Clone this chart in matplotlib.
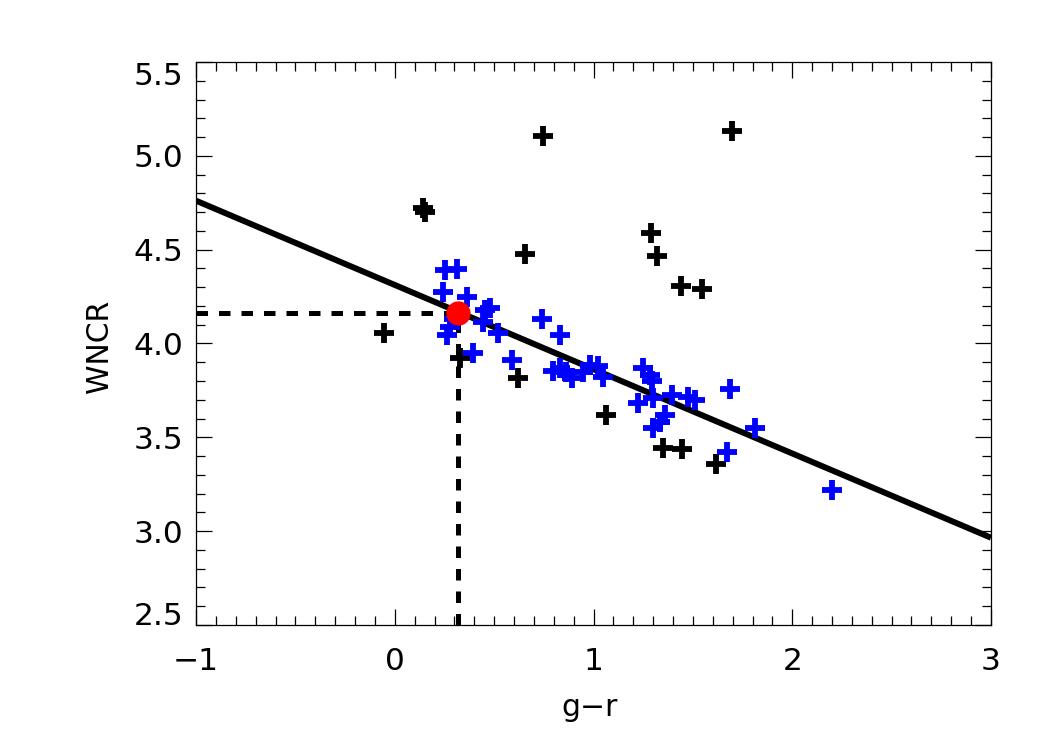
import matplotlib
matplotlib.use("Agg")
import matplotlib.pyplot as plt
import numpy as np
from matplotlib.ticker import MultipleLocator

# Data
black_x = [-0.054, 0.14, 0.15, 0.744, 0.655, 1.695, 1.288, 1.320, 1.440, 1.546,
           0.328, 0.620, 1.065, 1.352, 1.444, 1.615]
black_y = [4.058, 4.72, 4.70, 5.107, 4.478, 5.130, 4.591, 4.467, 4.309, 4.291,
           3.922, 3.817, 3.619, 3.443, 3.438, 3.358]

blue_x = [0.253, 0.312, 0.244, 0.362, 0.454, 0.479, 0.446, 0.521, 0.278, 0.261,
          0.395, 0.588, 0.739, 0.831, 0.796, 0.831, 0.892, 0.947, 0.982, 1.023,
          1.049, 1.251, 1.284, 1.292, 1.226, 1.301, 1.394, 1.360, 1.335, 1.301,
          1.477, 1.511, 1.687, 1.670, 1.812, 2.198, 0.862, 0.30]
blue_y = [4.392, 4.398, 4.277, 4.250, 4.179, 4.188, 4.117, 4.055, 4.090, 4.046,
          3.948, 3.913, 4.129, 4.046, 3.854, 3.870, 3.817, 3.849, 3.886, 3.881,
          3.824, 3.868, 3.833, 3.800, 3.682, 3.709, 3.726, 3.619, 3.584, 3.549,
          3.717, 3.699, 3.756, 3.424, 3.548, 3.220, 3.850, 4.130]

fit_intercept = 4.312
fit_slope = -0.449
point_x = 0.32
point_y = 4.164

x_range = [-1, 3]
y_range = [2.5, 5.5]

plt.rcParams['font.family'] = ['DejaVu Sans']

fig = plt.figure(figsize=(10.5, 7.5), dpi=100)
ax = fig.add_axes([0.1867, 0.1667, 0.7571, 0.7506])

# Fit line
lx = np.array(x_range, dtype=float)
ax.plot(lx, fit_intercept + fit_slope * lx, color='black', lw=4.3,
        solid_capstyle='butt', zorder=3)

# Points
ax.plot(black_x, black_y, linestyle='none', marker='+', ms=14.5, mew=4.2,
        color='black', zorder=4)
ax.plot(blue_x, blue_y, linestyle='none', marker='+', ms=14.5, mew=4.2,
        color='#0000ff', zorder=5)

# Dashed guide lines
ax.plot([x_range[0], point_x], [point_y, point_y], color='black', lw=3.6,
        dashes=(2.3, 2.2), dash_capstyle='butt', zorder=2)
ax.plot([point_x, point_x], [y_range[0], point_y], color='black', lw=3.6,
        dashes=(2.3, 2.2), dash_capstyle='butt', zorder=2)

# Red dot
ax.plot([point_x], [point_y], marker='o', ms=16.5, color='#ff0000',
        mec='#ff0000', linestyle='none', zorder=6)

ax.set_xlim(*x_range)
ax.set_ylim(*y_range)

ax.xaxis.set_major_locator(MultipleLocator(1))
ax.xaxis.set_minor_locator(MultipleLocator(0.1))
ax.yaxis.set_major_locator(MultipleLocator(0.5))
ax.yaxis.set_minor_locator(MultipleLocator(0.1))
ax.yaxis.set_major_formatter(matplotlib.ticker.FormatStrFormatter('%.1f'))

ax.tick_params(which='both', direction='in', top=True, right=True,
               width=0.9, colors='black')
ax.tick_params(which='major', length=11.5)
ax.tick_params(which='minor', length=6.5)
ax.tick_params(axis='x', which='major', pad=16, labelsize=22.5)
ax.tick_params(axis='y', which='major', pad=9, labelsize=22.5)

for s in ax.spines.values():
    s.set_linewidth(0.9)

ax.set_xlabel('g\u2212r', fontsize=21.5)
ax.set_ylabel('WNCR', fontsize=21.5)
ax.xaxis.set_label_coords(0.4956, -0.121)
ax.yaxis.set_label_coords(-0.103, 0.4956)

# End labels on the y axis sit inside the axis range, as in the reference
fig.canvas.draw()
for tick in ax.yaxis.get_major_ticks():
    v = tick.get_loc()
    if abs(v - y_range[1]) < 1e-6:
        tick.label1.set_verticalalignment('top')
    elif abs(v - y_range[0]) < 1e-6:
        tick.label1.set_verticalalignment('baseline')

fig.savefig('out.png', dpi=100)
